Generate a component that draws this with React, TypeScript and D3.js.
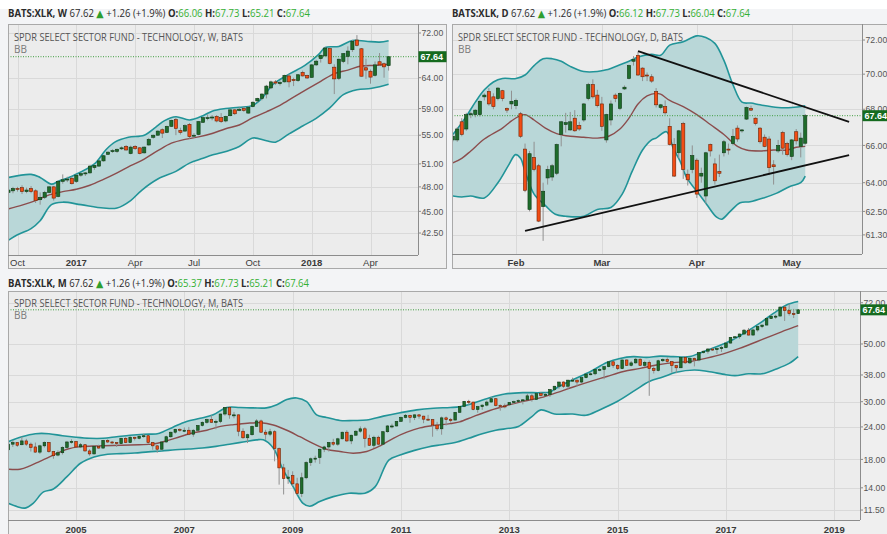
import React from "react";
import * as d3 from "d3";

type Bar = [number, number, number, number]; // open, high, low, close
type Pt = [number, number]; // bar index, price

const LAST = 67.64;
const TITLE = "SPDR SELECT SECTOR FUND - TECHNOLOGY";

// header quote: timeframe, open, high, low, close
const quoteW = ["W", "66.06", "67.73", "65.21", "67.64"];
const quoteD = ["D", "66.12", "67.73", "66.04", "67.64"];
const quoteM = ["M", "65.37", "67.73", "65.21", "67.64"];

// ---------- weekly: k = weeks since 2016-09-19
const wBars: Bar[] = [
  [47.3, 47.8, 47.1, 47.6], [47.5, 48.0, 47.2, 47.8], [47.8, 48.0, 47.4, 47.7], [47.9, 48.2, 47.1, 47.4],
  [47.4, 47.9, 47.2, 47.6], [47.8, 48.1, 47.2, 47.4], [47.5, 47.7, 46.0, 46.3], [46.4, 47.3, 45.8, 46.7],
  [46.7, 47.5, 46.5, 47.3], [47.3, 48.1, 47.2, 48.0], [48.0, 48.1, 46.3, 46.6], [46.8, 48.8, 46.7, 48.7],
  [48.7, 49.6, 48.4, 48.9], [48.9, 49.3, 48.6, 49.0], [49.1, 49.3, 48.3, 48.4], [48.7, 49.6, 48.5, 49.5],
  [49.5, 49.8, 49.3, 49.7], [49.7, 49.9, 49.4, 49.8], [49.8, 50.8, 49.7, 50.7], [50.5, 50.9, 50.2, 50.8],
  [50.7, 51.5, 50.6, 51.4], [51.4, 52.2, 51.3, 52.1], [52.3, 52.7, 52.2, 52.6], [52.7, 53.0, 52.5, 52.8],
  [52.7, 53.1, 52.5, 53.0], [53.1, 53.4, 52.9, 53.2], [53.4, 53.6, 52.8, 52.9], [52.4, 53.5, 52.3, 53.3],
  [53.4, 53.6, 52.9, 53.1], [53.2, 53.3, 52.3, 52.4], [52.5, 53.4, 52.4, 53.3], [53.6, 54.6, 53.5, 54.4],
  [54.7, 55.1, 54.5, 55.0], [55.0, 55.7, 54.9, 55.6], [55.8, 56.0, 54.6, 55.3], [55.4, 56.4, 55.3, 56.3],
  [56.3, 57.3, 56.2, 57.2], [57.3, 57.6, 55.0, 56.0], [55.7, 56.1, 55.1, 55.4], [55.6, 56.6, 55.5, 56.4],
  [56.6, 56.8, 54.5, 54.8], [54.9, 55.3, 54.6, 55.0], [55.1, 57.1, 55.0, 57.0], [56.9, 57.7, 56.8, 57.6],
  [57.6, 58.1, 57.2, 57.6], [57.6, 58.0, 57.2, 57.7], [57.8, 58.0, 56.9, 57.1], [57.6, 58.3, 56.8, 57.0],
  [57.1, 57.9, 56.9, 57.8], [57.9, 58.9, 57.8, 58.8], [58.8, 58.9, 58.0, 58.2], [58.7, 59.2, 58.6, 58.9],
  [59.0, 59.3, 58.5, 58.7], [58.3, 59.3, 58.2, 59.2], [59.3, 60.1, 59.2, 60.0], [60.2, 60.7, 60.0, 60.6],
  [60.6, 61.4, 60.3, 61.3], [61.3, 62.8, 60.6, 62.6], [62.3, 63.5, 62.1, 63.3], [63.3, 63.6, 62.8, 63.1],
  [63.0, 63.5, 62.7, 63.2], [63.3, 64.5, 63.2, 64.4], [64.3, 64.6, 62.4, 63.3], [63.7, 64.0, 62.6, 63.5],
  [63.5, 64.6, 63.3, 64.5], [64.9, 65.2, 64.2, 64.3], [64.4, 64.5, 63.8, 63.95], [64.05, 66.3, 64.0, 66.2],
  [66.2, 67.1, 66.0, 66.85], [67.3, 68.0, 66.6, 67.9], [67.8, 69.4, 67.6, 69.2], [69.1, 69.3, 66.3, 66.45],
  [65.8, 66.3, 61.3, 63.8], [63.9, 67.3, 63.6, 67.2], [66.8, 68.3, 66.5, 68.2], [67.7, 69.5, 66.3, 68.65],
  [68.9, 70.7, 68.5, 70.44], [70.68, 71.6, 69.5, 69.7], [69.07, 69.2, 64.2, 64.25], [65.7, 67.3, 63.8, 65.3],
  [65.1, 65.4, 63.0, 64.1], [64.4, 66.8, 64.2, 66.2], [66.75, 68.3, 66.1, 66.2], [66.4, 66.6, 64.0, 65.85],
  [66.06, 67.73, 65.21, 67.64],
];
const wUpper: Pt[] = [
  [0, 49.2], [5, 49.6], [7, 49.2], [9.5, 48.35], [11, 48.7], [14.5, 49.5], [19, 51.0], [21.5, 52.9],
  [23.5, 54.0], [26.5, 54.7], [30, 55.0], [32.5, 56.15], [34.5, 57.15], [37, 57.75], [40, 57.25],
  [43, 57.9], [45, 58.6], [48, 59.0], [51, 59.2], [54, 59.5], [56, 60.6], [58.5, 62.9], [62, 64.6],
  [65.5, 66.1], [68.5, 68.0], [70, 69.3], [73, 69.5], [76, 70.6], [79, 70.45], [82, 70.3], [84, 70.55],
];
const wMid: Pt[] = [
  [0, 45.3], [3, 45.75], [6, 46.3], [9, 47.0], [12, 47.4], [15, 47.7], [18, 48.2], [21, 48.95],
  [24, 49.8], [27, 50.75], [30, 51.65], [33, 52.8], [36, 53.85], [39, 54.4], [42, 54.75], [45, 55.25],
  [48, 55.95], [51, 56.5], [54, 57.6], [57, 58.5], [60, 59.5], [63, 60.8], [66, 62.1], [69, 63.4],
  [72, 64.7], [75, 65.3], [78, 66.0], [81, 66.1], [84, 66.3],
];
const wLower: Pt[] = [
  [0, 41.7], [2, 42.3], [5, 43.0], [7, 43.9], [9.5, 45.8], [12, 46.1], [16, 45.8], [21, 45.4],
  [24, 45.4], [27, 46.3], [29.5, 47.6], [33, 49.0], [37, 50.0], [40, 51.1], [43, 51.75], [45, 52.2],
  [47, 52.5], [51, 53.4], [54, 54.6], [57, 54.2], [59, 54.0], [62, 55.2], [65, 56.35], [68, 57.5],
  [71, 59.1], [74, 61.2], [77, 62.0], [80, 62.2], [82, 62.5], [84, 62.9],
];
const wPriceTicks = [72, 64, 59, 55, 51, 48, 45, 42.5];
const wTimeTicks: [number, string][] = [[2, "Oct"], [15, "2017"], [28, "Apr"], [41, "Jul"], [54, "Oct"], [67, "2018"], [80, "Apr"]];

// ---------- daily: index = trading day of 2018 (Jan 2 = 0), first bar is Jan 11
const dFirst = 7;
const dBars: Bar[] = [
  [66.3, 66.6, 66.2, 66.5], [66.3, 67.0, 66.2, 66.9], [67.3, 67.5, 66.5, 66.6], [66.9, 67.8, 66.8, 67.7],
  [67.7, 67.85, 67.5, 67.75], [67.7, 68.0, 67.55, 67.95], [67.7, 68.5, 67.6, 68.45], [68.7, 68.9, 68.5, 68.8],
  [69.0, 69.2, 68.2, 68.3], [68.7, 68.9, 68.0, 68.15], [68.6, 69.25, 68.5, 69.2], [69.05, 69.1, 68.45, 68.6],
  [68.05, 68.1, 67.8, 67.95], [68.3, 69.05, 68.0, 68.45], [68.2, 68.6, 68.0, 68.5], [67.75, 67.85, 66.4, 66.5],
  [65.8, 66.1, 63.5, 63.6], [62.6, 65.7, 62.5, 65.55], [65.35, 66.2, 64.6, 64.7], [64.9, 65.0, 61.95, 62.0],
  [62.75, 64.0, 61.0, 63.55], [64.25, 64.9, 63.9, 64.7], [64.3, 65.0, 64.1, 64.9], [64.5, 66.1, 64.4, 66.05],
  [66.6, 67.35, 65.95, 67.3], [67.15, 67.8, 66.7, 67.25], [66.85, 67.85, 66.8, 67.3], [67.5, 67.95, 66.75, 66.8],
  [67.1, 67.3, 66.8, 66.9], [67.4, 68.35, 67.3, 68.3], [68.6, 69.5, 68.5, 69.4], [69.4, 69.7, 68.6, 68.7],
  [68.8, 69.1, 68.1, 68.2], [68.3, 68.7, 66.8, 67.05], [66.3, 67.75, 66.15, 67.7], [67.4, 68.5, 67.1, 68.3],
  [68.8, 68.9, 68.4, 68.6], [68.05, 68.95, 67.95, 68.9], [69.15, 69.35, 69.1, 69.25], [69.75, 70.55, 69.7, 70.5],
  [70.75, 71.05, 70.5, 70.85], [71.1, 71.3, 69.9, 69.95], [70.35, 70.4, 69.6, 69.85], [69.95, 70.1, 69.6, 69.9],
  [69.85, 70.0, 69.5, 69.6], [69.0, 69.2, 68.1, 68.25], [68.1, 68.3, 68.0, 68.25], [68.15, 68.5, 67.7, 67.8],
  [67.05, 67.5, 66.0, 66.05], [66.05, 66.4, 64.3, 64.35], [65.6, 66.85, 65.3, 66.8], [67.2, 67.3, 64.2, 64.7],
  [64.45, 64.7, 63.85, 64.15], [64.7, 66.0, 64.5, 65.45], [65.2, 65.3, 63.2, 63.4], [64.35, 64.8, 64.0, 64.5],
  [63.3, 65.65, 62.9, 65.6], [66.05, 66.1, 65.4, 65.7], [65.0, 65.3, 63.9, 64.1], [64.6, 65.5, 64.3, 64.5],
  [65.6, 66.3, 65.4, 66.2], [65.8, 66.1, 65.5, 65.75], [66.1, 66.9, 66.0, 66.5], [66.95, 67.1, 66.2, 66.35],
  [66.8, 66.9, 66.7, 66.85], [67.45, 68.15, 67.4, 68.1], [68.05, 68.2, 67.9, 67.95], [67.5, 67.55, 67.1, 67.2],
  [66.95, 67.0, 66.1, 66.2], [66.45, 66.6, 65.9, 65.95], [66.35, 66.5, 64.4, 64.8], [64.95, 65.2, 63.9, 64.85],
  [65.7, 66.3, 65.6, 66.0], [66.7, 66.8, 65.5, 65.85], [66.1, 66.2, 65.4, 65.5], [65.4, 66.35, 65.2, 66.3],
  [66.75, 66.9, 66.05, 66.25], [65.95, 66.7, 65.35, 66.4], [66.12, 67.73, 66.04, 67.64],
];
const dUpper: Pt[] = [
  [7, 66.6], [8, 66.9], [10, 67.6], [12, 68.4], [14, 69.1], [16, 69.55], [18, 69.75], [21, 69.75],
  [23, 69.95], [25, 70.5], [27, 70.9], [29, 70.9], [31, 70.75], [33, 70.45], [36, 70.15], [39, 70.15],
  [41, 70.25], [44, 70.55], [46, 70.75], [48, 71.0], [51, 71.15], [53, 71.1], [55, 71.7], [58, 71.9],
  [61, 72.25], [63, 72.15], [65, 71.8], [67, 70.8], [69, 69.4], [71, 68.4], [73, 68.35], [75, 68.25],
  [79, 68.1], [82, 68.1], [85, 68.2],
];
const dMid: Pt[] = [
  [7, 65.05], [9, 65.3], [11, 65.7], [14, 66.35], [18, 66.95], [20, 67.35], [21.6, 67.6], [23, 67.7],
  [25, 67.4], [27.5, 66.95], [30, 66.65], [33, 66.5], [36, 66.45], [39, 66.4], [41.5, 66.5], [44, 66.9],
  [46, 67.5], [48, 68.3], [50, 68.75], [52, 68.9], [53, 68.85], [55, 68.5], [58, 68.15], [61, 67.7],
  [64, 67.15], [67, 66.6], [70, 65.95], [72, 65.75], [75, 65.7], [78, 65.75], [81, 65.75], [83, 65.9],
  [85, 65.95],
];
const dLower: Pt[] = [
  [7, 63.3], [9, 63.25], [11, 63.3], [14, 63.2], [17, 64.0], [19.4, 64.95], [20.9, 65.5], [22, 65.3],
  [23, 64.6], [25, 63.4], [27.5, 62.8], [29.7, 62.35], [32, 62.25], [36, 62.25], [39, 62.6], [42, 62.7],
  [44.5, 63.4], [46.7, 64.6], [49, 65.75], [51, 66.3], [52, 66.4], [54.3, 66.75], [55.8, 65.85],
  [57.3, 65.15], [58.8, 64.25], [61, 63.55], [63.2, 62.86], [65.4, 62.2], [66.5, 62.1], [68.4, 62.5],
  [70.6, 62.95], [72.8, 63.0], [75.8, 63.2], [78.7, 63.45], [81.6, 63.8], [84, 64.0], [85, 64.35],
];
const dTrends: [Pt, Pt][] = [[[48, 71.35], [94.7, 67.3]], [[23, 61.5], [94.7, 65.47]]];
const dPriceTicks = [72, 70, 68, 66, 64, 62.5, 61.3];
const dTimeTicks: [number, string][] = [[21, "Feb"], [40, "Mar"], [61, "Apr"], [82, "May"]];

// ---------- monthly: m = months since Jan 2005, first bar is Oct 2003
const mFirst = -15;
const mBars: Bar[] = [
  // 2003
  [19.6, 20.9, 19.5, 20.6], [20.6, 21.3, 20.1, 20.9], [20.9, 21.0, 20.1, 20.4],
  // 2004
  [20.5, 22.0, 20.4, 21.2], [21.2, 21.6, 20.3, 20.6], [20.6, 20.9, 19.3, 20.0], [20.1, 20.9, 19.1, 19.2],
  [19.2, 20.5, 18.9, 20.3], [20.3, 21.1, 20.0, 20.9], [20.9, 21.0, 19.1, 19.3], [19.3, 19.4, 18.1, 18.6],
  [18.7, 19.5, 18.5, 19.1], [19.1, 20.2, 18.8, 20.0], [20.0, 21.2, 19.9, 21.0], [21.0, 21.5, 20.7, 21.1],
  // 2005
  [21.1, 21.2, 20.0, 20.1], [20.1, 20.8, 19.9, 20.5], [20.5, 20.6, 19.3, 19.4], [19.4, 19.7, 18.6, 18.9],
  [18.9, 20.4, 18.8, 20.2], [20.2, 20.5, 19.8, 19.9], [19.9, 21.4, 19.8, 21.3], [21.3, 21.5, 20.8, 21.0],
  [21.0, 21.2, 20.6, 20.9], [20.9, 21.0, 20.1, 20.7], [20.7, 21.8, 20.6, 21.7], [21.7, 21.9, 20.8, 20.9],
  // 2006
  [20.9, 22.1, 20.8, 21.9], [21.9, 22.0, 21.3, 21.7], [21.7, 22.3, 21.5, 22.1], [22.1, 22.6, 21.8, 22.2],
  [22.2, 22.3, 20.6, 20.9], [20.9, 21.0, 19.6, 20.3], [20.3, 20.4, 19.1, 19.7], [19.7, 21.1, 19.5, 21.0],
  [21.0, 22.2, 20.9, 22.0], [22.0, 23.0, 21.8, 22.9], [22.9, 23.6, 22.6, 23.5], [23.5, 23.7, 23.0, 23.3],
  // 2007
  [23.3, 23.9, 22.9, 23.3], [23.3, 24.0, 22.3, 22.5], [22.5, 23.5, 22.0, 23.3], [23.3, 24.4, 23.2, 24.3],
  [24.3, 25.2, 24.1, 25.0], [25.0, 25.8, 24.7, 25.6], [25.6, 26.6, 24.9, 25.0], [25.0, 25.6, 23.5, 25.2],
  [25.2, 27.0, 24.8, 26.9], [26.9, 28.6, 26.5, 28.5], [28.5, 28.7, 25.8, 26.7], [26.7, 27.4, 25.9, 26.7],
  // 2008
  [26.7, 26.8, 22.1, 23.1], [23.1, 23.7, 21.6, 21.8], [21.8, 22.6, 20.8, 22.4], [22.4, 24.3, 22.2, 24.1],
  [24.1, 25.7, 24.0, 25.3], [25.3, 25.6, 22.8, 22.9], [22.9, 23.4, 21.4, 22.5], [22.5, 23.6, 22.1, 23.0],
  [23.0, 23.3, 17.7, 19.8], [19.8, 20.0, 14.4, 16.7], [16.7, 17.3, 13.2, 15.2], [15.2, 16.4, 14.5, 15.4],
  // 2009
  [15.6, 16.2, 14.2, 14.5], [14.5, 15.3, 13.1, 13.3], [13.3, 16.0, 12.9, 15.3], [15.3, 17.7, 15.1, 17.5],
  [17.5, 18.3, 17.0, 18.1], [18.1, 18.6, 17.5, 18.2], [18.3, 19.8, 17.3, 19.7], [19.7, 20.3, 19.2, 20.1],
  [20.1, 21.0, 19.3, 20.9], [20.9, 21.6, 20.3, 20.6], [20.6, 21.8, 20.3, 21.6], [21.6, 23.0, 21.5, 22.9],
  // 2010
  [22.9, 23.3, 21.0, 21.2], [21.2, 22.4, 20.6, 22.3], [22.3, 23.3, 22.2, 23.1], [23.1, 24.1, 22.8, 23.6],
  [23.6, 24.0, 20.0, 21.7], [21.7, 22.4, 20.3, 20.4], [20.4, 22.2, 19.9, 21.9], [21.9, 22.2, 20.4, 20.6],
  [20.6, 23.1, 20.5, 23.0], [23.0, 24.4, 22.8, 24.2], [24.2, 24.7, 23.7, 24.2], [24.2, 25.3, 24.1, 25.2],
  // 2011
  [25.2, 26.3, 25.1, 26.1], [26.1, 26.9, 25.9, 26.6], [26.6, 26.7, 24.9, 26.1], [26.1, 26.8, 25.5, 26.7],
  [26.7, 26.9, 25.8, 26.4], [26.4, 26.5, 24.8, 25.7], [25.7, 26.7, 25.4, 25.6], [25.6, 25.7, 22.0, 24.4],
  [24.4, 25.1, 23.2, 23.6], [23.6, 26.3, 22.4, 26.0], [26.0, 26.3, 24.3, 25.6], [25.6, 26.0, 24.9, 25.4],
  // 2012
  [25.5, 27.4, 25.5, 27.3], [27.3, 28.9, 27.2, 28.8], [28.8, 30.2, 28.6, 30.1], [30.1, 30.5, 29.2, 29.9],
  [29.9, 30.0, 27.8, 28.0], [28.0, 28.9, 27.2, 28.7], [28.7, 29.3, 27.9, 29.1], [29.1, 30.3, 28.8, 29.9],
  [29.9, 31.3, 29.8, 30.8], [30.8, 31.0, 28.8, 29.0], [29.0, 29.3, 27.7, 28.9], [28.9, 29.5, 28.3, 28.8],
  // 2013
  [29.2, 29.9, 28.9, 29.8], [29.8, 30.3, 29.4, 30.0], [30.0, 30.6, 29.9, 30.3], [30.3, 30.7, 29.3, 30.5],
  [30.5, 32.2, 30.5, 31.6], [31.6, 32.1, 30.0, 30.6], [30.6, 32.3, 30.6, 32.2], [32.2, 32.6, 31.4, 31.7],
  [31.7, 32.5, 31.6, 32.0], [32.0, 33.5, 31.3, 33.4], [33.4, 34.5, 33.0, 34.4], [34.4, 35.8, 33.6, 35.7],
  // 2014
  [35.7, 35.9, 33.9, 34.4], [34.4, 36.4, 33.6, 36.3], [36.3, 37.1, 35.8, 36.3], [36.3, 36.5, 34.4, 35.7],
  [35.7, 37.2, 35.2, 37.1], [37.1, 38.4, 36.9, 38.3], [38.3, 39.0, 37.9, 38.4], [38.4, 39.9, 37.9, 39.9],
  [39.9, 40.3, 39.3, 39.9], [39.9, 41.0, 36.6, 40.9], [40.9, 42.8, 40.7, 42.7], [42.7, 43.0, 40.5, 41.4],
  // 2015
  [41.4, 41.8, 39.7, 40.2], [40.2, 43.5, 40.0, 43.4], [43.4, 43.6, 41.2, 41.4], [41.4, 43.0, 41.0, 42.3],
  [42.3, 44.2, 42.0, 43.7], [43.7, 44.0, 41.4, 41.4], [41.4, 43.1, 40.8, 42.5], [42.5, 43.2, 31.6, 40.2],
  [40.2, 41.0, 38.5, 39.5], [39.5, 43.5, 39.2, 43.1], [43.1, 44.0, 42.6, 43.6], [43.6, 44.4, 42.2, 42.8],
  // 2016
  [42.8, 42.9, 38.8, 41.3], [41.3, 41.5, 38.6, 40.5], [40.5, 44.5, 40.4, 44.4], [44.4, 44.9, 42.0, 42.3],
  [42.3, 44.2, 41.9, 44.0], [44.0, 44.3, 41.0, 43.4], [43.4, 46.5, 42.9, 46.3], [46.3, 47.1, 46.0, 46.9],
  [46.9, 48.2, 45.9, 47.8], [47.8, 48.3, 47.0, 47.6], [47.6, 48.3, 45.8, 48.0], [48.0, 49.3, 46.6, 48.4],
  // 2017
  [48.4, 50.7, 48.1, 50.4], [50.4, 53.1, 50.2, 53.0], [53.0, 53.6, 52.3, 53.3], [53.3, 54.8, 52.4, 54.6],
  [54.6, 57.0, 54.3, 56.5], [56.5, 57.6, 53.9, 54.1], [54.1, 57.2, 53.9, 56.6], [56.6, 58.6, 55.8, 58.3],
  [58.3, 59.3, 57.5, 59.1], [59.1, 62.8, 59.0, 62.6], [62.6, 64.6, 62.4, 63.9], [63.9, 64.8, 62.5, 63.95],
  // 2018
  [64.0, 69.6, 64.0, 69.3], [69.3, 69.8, 61.3, 67.2], [67.2, 71.3, 64.3, 65.4], [65.4, 68.2, 62.9, 65.37],
  [65.37, 67.73, 65.21, 67.64],
];
const mUpper: Pt[] = [
  [-15, 21.05], [-12, 22.0], [-9, 22.6], [-6, 22.6], [-3, 22.2], [0, 21.9], [3, 21.7], [6, 21.7],
  [9, 22.0], [12, 22.3], [15, 22.5], [18, 22.6], [19.3, 23.0], [21.6, 24.0], [24.5, 25.2], [27.5, 25.9],
  [30.4, 26.7], [33.4, 28.5], [36.3, 28.5], [39.3, 28.4], [42.2, 28.4], [44.5, 29.2], [46.7, 30.6],
  [48.9, 31.0], [51.1, 30.0], [53.3, 26.7], [55.5, 26.1], [58.5, 25.4], [61.4, 25.4], [64.4, 25.5],
  [68.1, 26.4], [71.8, 27.2], [75.5, 27.9], [79.2, 28.3], [82.9, 28.5], [85, 28.7], [88, 29.6],
  [92, 31.2], [95, 32.1], [99, 32.5], [103, 32.5], [105, 32.7], [107, 34.3], [110, 36.4], [114, 39.2],
  [117.6, 42.4], [120.5, 44.0], [123.5, 44.7], [126.4, 44.4], [129.4, 44.9], [132.3, 44.7], [136, 44.7],
  [138, 46.0], [141, 48.1], [143.4, 50.0], [145.6, 52.0], [148.6, 55.8], [151.5, 60.1], [154.5, 65.5],
  [157.4, 70.6], [160, 72.8],
];
const mMid: Pt[] = [
  [-15, 16.5], [-12.4, 16.5], [-10.2, 17.0], [-8, 17.7], [-5, 18.7], [-2, 19.7], [1, 20.15], [5, 20.3],
  [10, 20.4], [14, 20.5], [17, 20.6], [20, 21.2], [23, 22.0], [26, 22.8], [29, 23.3], [32, 24.1],
  [35, 24.5], [38, 24.8], [41, 24.9], [43.7, 24.4], [46.7, 23.3], [49.6, 22.0], [52.6, 20.7],
  [55.5, 19.7], [58.5, 19.3], [61.4, 19.0], [64.4, 19.3], [67.4, 20.3], [70.3, 21.7], [73.3, 22.9],
  [76.2, 23.8], [79.2, 24.3], [82.9, 24.7], [85, 25.1], [88, 26.3], [91.7, 27.75], [95.4, 29.0],
  [99, 30.1], [103, 31.1], [106.5, 32.5], [110, 34.1], [114, 35.9], [117.6, 37.5], [121.3, 39.2],
  [125, 40.3], [128.6, 41.5], [132.3, 42.4], [136, 42.8], [139.7, 44.1], [143.4, 45.8], [147, 48.1],
  [150.8, 51.0], [154.5, 54.1], [157.4, 56.6], [160, 58.8],
];
const mLower: Pt[] = [
  [-15, 12.2], [-13, 11.85], [-11.3, 11.7], [-9.5, 12.2], [-7.2, 13.5], [-5, 13.85], [-2, 15.45],
  [1, 17.4], [4, 18.4], [7, 18.85], [10, 18.95], [13, 19.05], [16, 19.25], [19, 19.4], [22, 19.6],
  [25, 19.75], [28, 19.9], [31, 20.2], [34, 20.6], [37, 21.0], [40, 21.4], [41.5, 21.4], [43.7, 19.9],
  [45.9, 16.4], [48.1, 14.15], [50.3, 12.2], [51.8, 11.9], [54, 12.4], [57, 12.95], [60.5, 13.35],
  [64, 13.35], [66.3, 14.15], [69.3, 17.9], [71.8, 18.7], [75, 19.5], [78, 20.1], [81, 20.5],
  [84, 20.9], [87, 21.7], [90, 22.6], [93, 23.3], [96, 23.7], [98, 24.1], [101, 26.3], [103, 27.9],
  [106, 26.9], [110, 26.9], [113, 26.6], [116, 27.9], [120, 30.1], [124, 33.3], [127, 35.9], [130, 37.3],
  [133, 38.9], [137, 39.7], [140, 39.2], [144, 38.1], [146, 37.8], [149, 38.4], [152, 38.4], [155, 40.0],
  [158, 42.1], [160, 44.7],
];
const mPriceTicks = [72, 50, 38, 30, 24, 18, 14, 11.5];
const mTimeTicks: [number, string][] = [
  [0, "2005"], [24, "2007"], [48, "2009"], [72, "2011"], [96, "2013"], [120, "2015"], [144, "2017"], [168, "2019"],
];

const COL = {
  page: "#f3f4f6", frame: "#efefef", plot: "#ececec", grid: "#d9d9d9", border: "#8c8c8c",
  up: "#1e6c2b", upEdge: "#0e3a15", down: "#f24c14", downEdge: "#6b2306", wick: "#909090",
  bandFill: "#b9d7d8", band: "#219498", mid: "#8b4d4d", lastBox: "#156b1f", dotted: "#3f9d3f",
};
const AXIS_FONT = "'Liberation Sans', Arial, sans-serif";
const UI_FONT = "'Open Sans', 'DejaVu Sans', sans-serif";

function Header({ x, y, q, len }: { x: number; y: number; q: string[]; len: number }) {
  const g = "#33b033";
  return (
    <text x={x} y={y} fontFamily={UI_FONT} fontSize={10} textLength={len} lengthAdjust="spacingAndGlyphs" fill="#2a2a2a">
      <tspan fontWeight="bold">{`BATS:XLK, ${q[0]}`}</tspan>
      <tspan>{" 67.62 "}</tspan>
      <tspan fill="#2e9e2e" fontFamily="'DejaVu Sans', sans-serif">{"\u25B2"}</tspan>
      <tspan>{" +1.26 (+1.9%) "}</tspan>
      <tspan fontWeight="bold">O:</tspan><tspan fill={g}>{q[1]}</tspan>
      <tspan fontWeight="bold">{" H:"}</tspan><tspan fill={g}>{q[2]}</tspan>
      <tspan fontWeight="bold">{" L:"}</tspan><tspan fill={g}>{q[3]}</tspan>
      <tspan fontWeight="bold">{" C:"}</tspan><tspan fill={g}>{q[4]}</tspan>
    </text>
  );
}

type PanelProps = {
  id: string; x0: number; x1: number; y0: number; y1: number; fx1: number; fy1: number;
  x: d3.ScaleLinear<number, number>; y: d3.ScaleLogarithmic<number, number>;
  first: number; bars: Bar[]; bw: number;
  upper: Pt[]; mid: Pt[]; lower: Pt[];
  priceTicks: number[]; timeTicks: [number, string][]; boldTime: boolean | null;
  tf: string; titleLen: number; titleY: number; timeY: number; trends?: [Pt, Pt][];
};

function Panel(p: PanelProps) {
  const { x, y } = p;
  const line = d3.line<Pt>().x((d) => x(d[0])).y((d) => y(d[1])).curve(d3.curveCatmullRom.alpha(0.5));
  const up = line(p.upper) || "";
  const lo = line([...p.lower].reverse()) || "";
  const fill = up + "L" + lo.slice(1) + "Z";
  const yLast = y(LAST);
  return (
    <g>
      <rect x={p.x0 + 0.5} y={p.y0 + 0.5} width={p.fx1 - p.x0} height={p.fy1 - p.y0} fill={COL.frame} stroke="#a9a9a9" />
      <rect x={p.x0 + 1} y={p.y0 + 1} width={p.x1 - p.x0 - 1} height={p.y1 - p.y0 - 1} fill={COL.plot} />
      <clipPath id={p.id}><rect x={p.x0 + 1} y={p.y0 + 1} width={p.x1 - p.x0 - 1} height={p.y1 - p.y0 - 1} /></clipPath>
      <g clipPath={`url(#${p.id})`}>
        {p.priceTicks.map((v) => (
          <line key={"h" + v} x1={p.x0} x2={p.x1} y1={Math.round(y(v)) + 0.5} y2={Math.round(y(v)) + 0.5} stroke={COL.grid} />
        ))}
        {p.timeTicks.map(([i]) => (
          <line key={"v" + i} x1={Math.round(x(i)) + 0.5} x2={Math.round(x(i)) + 0.5} y1={p.y0} y2={p.y1} stroke={COL.grid} />
        ))}
        <path d={fill} fill={COL.bandFill} />
        <path d={up} fill="none" stroke={COL.band} strokeWidth={1.6} />
        <path d={line(p.lower) || ""} fill="none" stroke={COL.band} strokeWidth={1.6} />
        <path d={line(p.mid) || ""} fill="none" stroke={COL.mid} strokeWidth={1.4} />
        <line x1={p.x0} x2={p.x1} y1={yLast} y2={yLast} stroke={COL.dotted} strokeDasharray="1,1.5" strokeWidth={1} />
        {p.bars.map(([o, h, l, c], i) => {
          const cx = x(p.first + i);
          const rise = c >= o;
          const yt = y(Math.max(o, c));
          const yb = y(Math.min(o, c));
          return (
            <g key={i}>
              <line x1={cx} x2={cx} y1={y(h)} y2={y(l)} stroke={COL.wick} strokeWidth={1} />
              <rect x={cx - p.bw / 2} y={yt} width={p.bw} height={Math.max(1, yb - yt)}
                fill={rise ? COL.up : COL.down} stroke={rise ? COL.upEdge : COL.downEdge} strokeWidth={0.6} />
            </g>
          );
        })}
        {(p.trends || []).map(([a, b], i) => (
          <line key={"t" + i} x1={x(a[0])} y1={y(a[1])} x2={x(b[0])} y2={y(b[1])} stroke="#111" strokeWidth={1.8} />
        ))}
      </g>
      <text x={p.x0 + 6} y={p.titleY} fontFamily={UI_FONT} fontSize={10.5} fill="#555" textLength={p.titleLen} lengthAdjust="spacingAndGlyphs">
        {`${TITLE}, ${p.tf}, BATS`}
      </text>
      <text x={p.x0 + 6} y={p.titleY + 12.5} fontFamily={UI_FONT} fontSize={10} fill="#7a7a7a">BB</text>
      <line x1={p.x1 + 0.5} x2={p.x1 + 0.5} y1={p.y0} y2={p.y1} stroke={COL.border} />
      <line x1={p.x0} x2={p.x1} y1={p.y1 + 0.5} y2={p.y1 + 0.5} stroke={COL.border} />
      {p.priceTicks.map((v) => (
        <g key={"p" + v}>
          <line x1={p.x1} x2={p.x1 + 3} y1={y(v)} y2={y(v)} stroke={COL.border} />
          <text x={p.x1 + 3.5} y={y(v) + 3.2} fontFamily={AXIS_FONT} fontSize={8.7} fill="#555">{v.toFixed(2)}</text>
        </g>
      ))}
      {p.timeTicks.map(([i, s]) => (
        <text key={"l" + i} x={x(i)} y={p.timeY} textAnchor="middle" fontFamily={AXIS_FONT} fontSize={9.5}
          fill="#3a3a3a" fontWeight={p.boldTime === null ? (/^\d{4}$/.test(s) ? "bold" : "normal") : p.boldTime ? "bold" : "normal"}>
          {s}
        </text>
      ))}
      <rect x={p.x1 + 0.5} y={yLast - 5.5} width={28} height={11} fill={COL.lastBox} />
      <text x={p.x1 + 2.5} y={yLast + 3.3} fontFamily={AXIS_FONT} fontSize={9} fontWeight="bold" fill="#fff">{LAST.toFixed(2)}</text>
    </g>
  );
}

export default function App() {
  // weekly panel
  const xW = d3.scaleLinear().domain([2, 80]).range([17.5, 370.5]);
  const yW = d3.scaleLog().domain([40.11, 73.73]).range([255, 24]);
  // daily panel
  const xD = d3.scaleLinear().domain([21, 82]).range([516, 791.7]);
  const yD = d3.scaleLog().domain([60.34, 72.96]).range([254, 24]);
  // monthly panel
  const xM = d3.scaleLinear().domain([0, 168]).range([76, 834.3]);
  const yM = d3.scaleLog().domain([10.53, 79.9]).range([520, 291]);

  return (
    <div style={{ position: "fixed", left: 0, top: 0 }}>
      <svg width={887} height={534} style={{ display: "block" }}>
        <rect width={887} height={534} fill={COL.page} />
        <rect width={887} height={9} fill="#fff" />
        <Header x={8} y={17} q={quoteW} len={302} />
        <Header x={452} y={17} q={quoteD} len={298} />
        <Header x={8} y={287} q={quoteM} len={301} />
        <Panel id="cw" x0={8} x1={418} y0={24} y1={255} fx1={446} fy1={268} x={xW} y={yW}
          first={0} bars={wBars} bw={3.2} upper={wUpper} mid={wMid} lower={wLower}
          priceTicks={wPriceTicks} timeTicks={wTimeTicks} boldTime={null} tf="W" titleLen={229} titleY={40.5} timeY={265.5} />
        <Panel id="cd" x0={452} x1={862} y0={24} y1={254} fx1={890} fy1={268} x={xD} y={yD}
          first={dFirst} bars={dBars} bw={3.2} upper={dUpper} mid={dMid} lower={dLower}
          priceTicks={dPriceTicks} timeTicks={dTimeTicks} boldTime={true} tf="D" titleLen={225} titleY={40.5} timeY={265.5}
          trends={dTrends} />
        <Panel id="cm" x0={8} x1={860} y0={291} y1={520} fx1={890} fy1={540} x={xM} y={yM}
          first={mFirst} bars={mBars} bw={2.6} upper={mUpper} mid={mMid} lower={mLower}
          priceTicks={mPriceTicks} timeTicks={mTimeTicks} boldTime={true} tf="M" titleLen={229} titleY={306.5} timeY={532.5} />
      </svg>
    </div>
  );
}
